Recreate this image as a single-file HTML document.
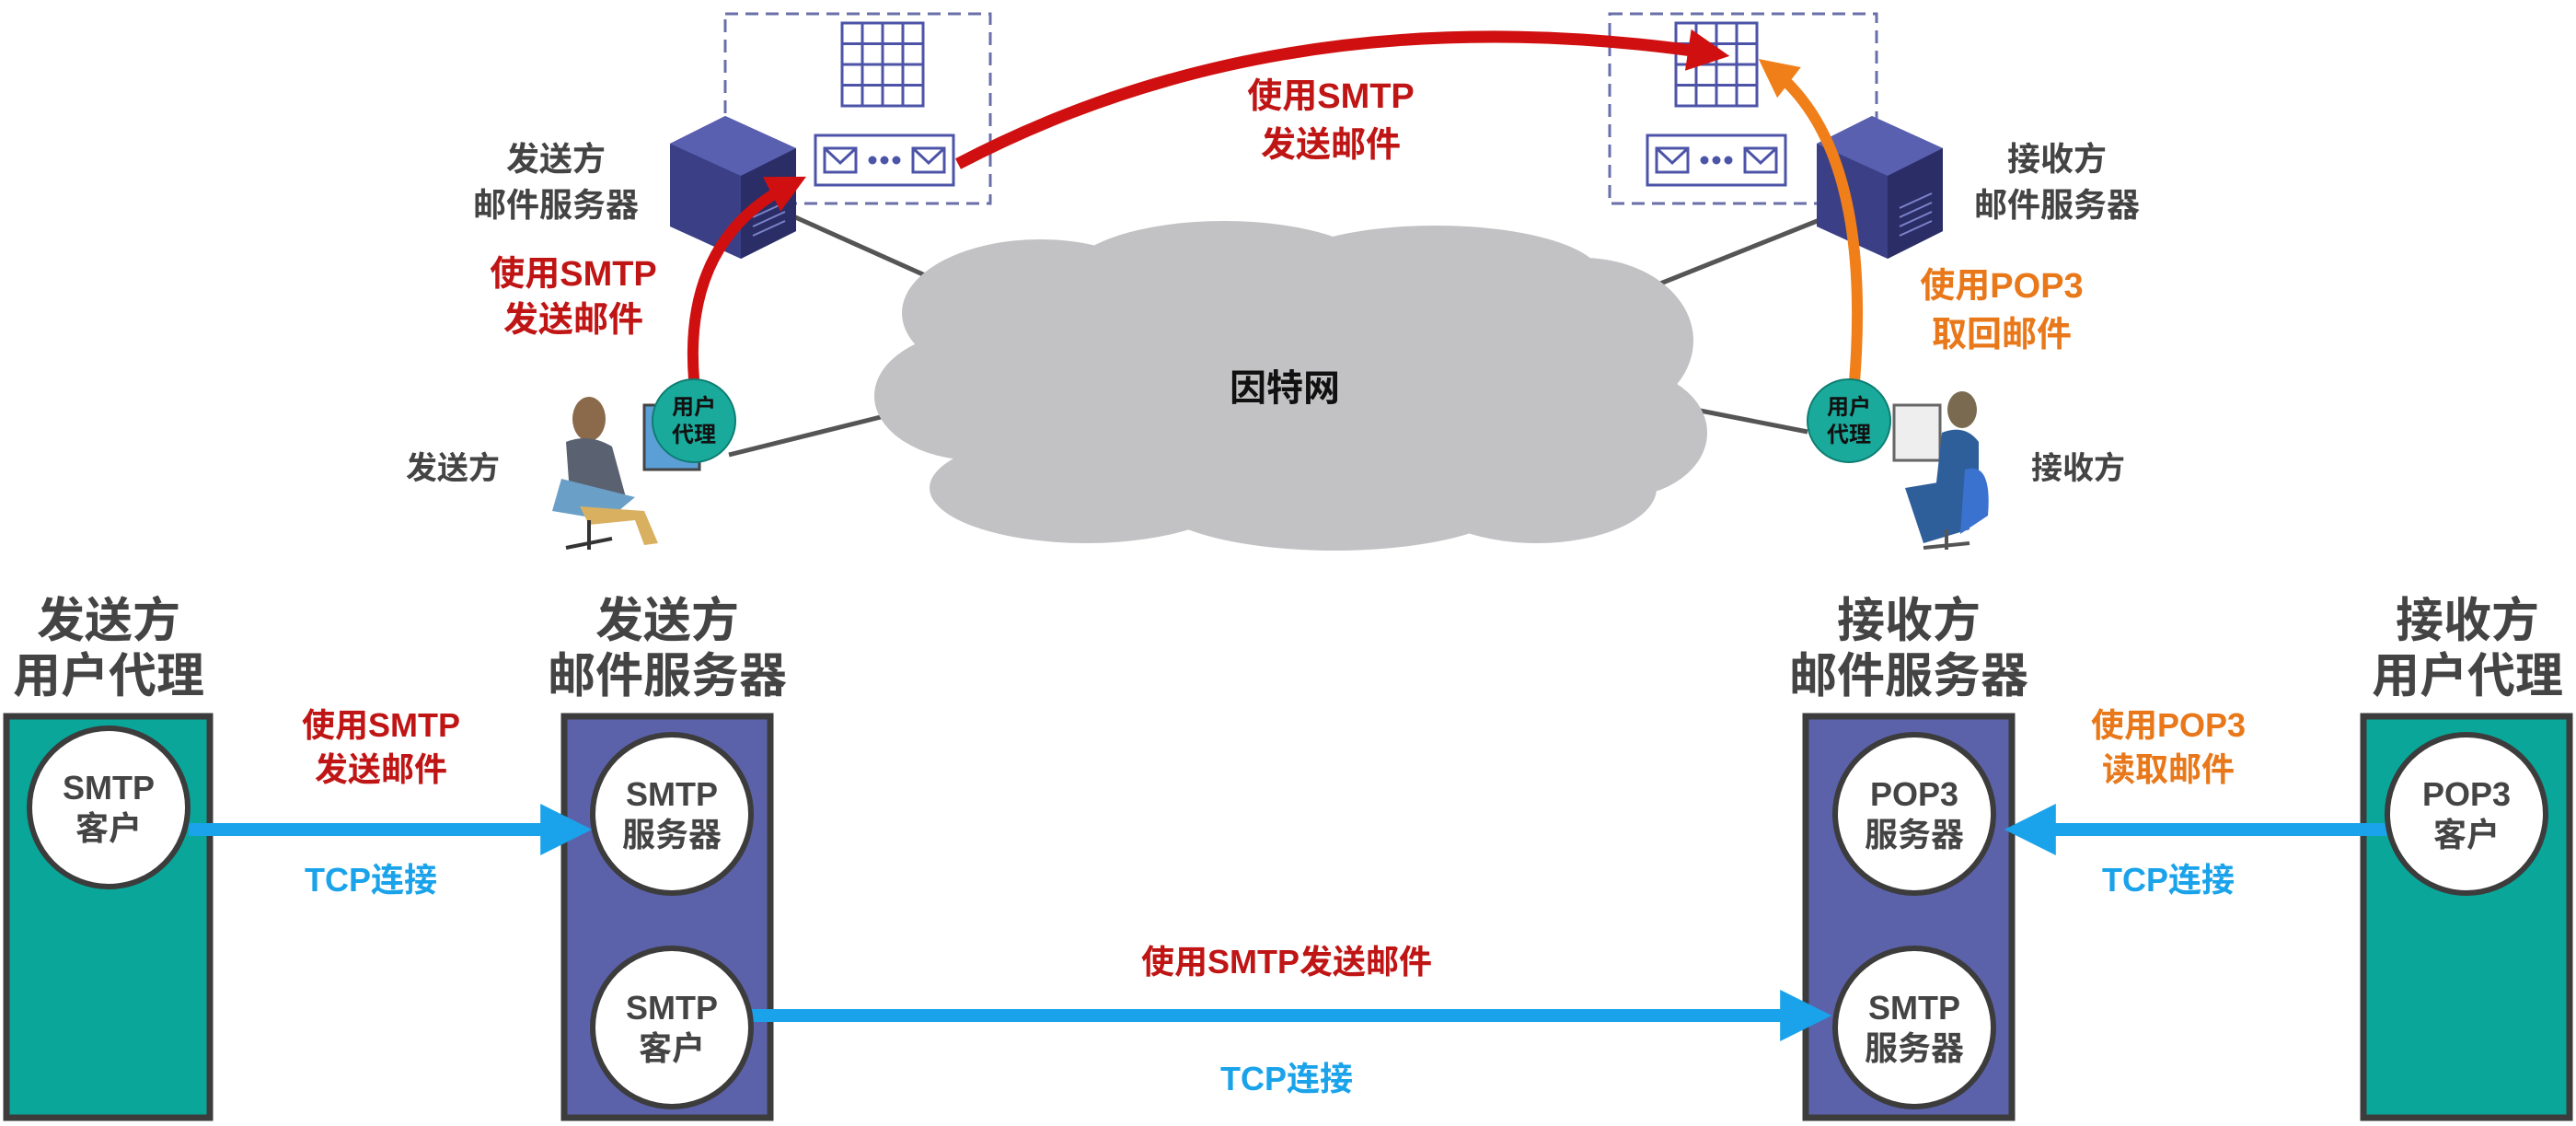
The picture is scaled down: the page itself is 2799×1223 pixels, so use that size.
<!DOCTYPE html>
<html><head><meta charset="utf-8"><style>
html,body{margin:0;padding:0;background:#fff;}
svg{display:block}
text{font-family:"Liberation Sans","Noto Sans CJK SC",sans-serif;font-weight:bold;text-anchor:middle;}
</style></head><body>
<svg width="2799" height="1223" viewBox="0 0 2799 1223" xmlns="http://www.w3.org/2000/svg">
<defs>
<marker id="ab" markerWidth="4" markerHeight="4" refX="2.2" refY="2" orient="auto" markerUnits="strokeWidth"><path d="M0,0 L4,2 L0,4 z" fill="#1aa3ea"/></marker>
<marker id="ar" markerWidth="3.5" markerHeight="3.5" refX="2" refY="1.75" orient="auto" markerUnits="strokeWidth"><path d="M0,0 L3.5,1.75 L0,3.5 z" fill="#d01010"/></marker>
<marker id="ao" markerWidth="3.5" markerHeight="3.5" refX="2" refY="1.75" orient="auto" markerUnits="strokeWidth"><path d="M0,0 L3.5,1.75 L0,3.5 z" fill="#f07f1a"/></marker>
<g id="srv">
<polygon points="0,30 60,0 137,35 137,125 77,155 0,120" fill="#3b3f86"/>
<polygon points="0,30 60,0 137,35 77,65" fill="#5a60b0"/>
<polygon points="77,65 137,35 137,125 77,155" fill="#2a2d66"/>
<g stroke="#7c82c8" stroke-width="2"><line x1="90" y1="100" x2="125" y2="84"/><line x1="90" y1="110" x2="125" y2="94"/><line x1="90" y1="120" x2="125" y2="104"/><line x1="90" y1="130" x2="125" y2="114"/></g>
</g>
<g id="grid" stroke="#4d54a8" stroke-width="3" fill="#fff">
<rect x="0" y="0" width="88" height="90"/>
<line x1="22" y1="0" x2="22" y2="90"/><line x1="44" y1="0" x2="44" y2="90"/><line x1="66" y1="0" x2="66" y2="90"/>
<line x1="0" y1="22.5" x2="88" y2="22.5"/><line x1="0" y1="45" x2="88" y2="45"/><line x1="0" y1="67.5" x2="88" y2="67.5"/>
</g>
<g id="env" stroke="#4d54a8" stroke-width="3" fill="#fff">
<rect x="0" y="0" width="150" height="54"/>
<rect x="10" y="14" width="34" height="26"/><polyline points="10,14 27,30 44,14" fill="none"/>
<rect x="106" y="14" width="34" height="26"/><polyline points="106,14 123,30 140,14" fill="none"/>
<circle cx="62" cy="27" r="3" fill="#4d54a8"/><circle cx="75" cy="27" r="3" fill="#4d54a8"/><circle cx="88" cy="27" r="3" fill="#4d54a8"/>
</g>
</defs>

<!-- top: connector lines -->
<g stroke="#555" stroke-width="5">
<line x1="862" y1="235" x2="1063" y2="325"/>
<line x1="792" y1="494" x2="977" y2="448"/>
<line x1="1977" y1="239" x2="1789" y2="314"/>
<line x1="1964" y1="469" x2="1827" y2="442"/>
</g>
<!-- cloud -->
<g fill="#c2c2c4">
<ellipse cx="1400" cy="430" rx="400" ry="120"/>
<ellipse cx="1130" cy="340" rx="150" ry="80"/>
<ellipse cx="1330" cy="300" rx="170" ry="60"/>
<ellipse cx="1560" cy="300" rx="180" ry="55"/>
<ellipse cx="1720" cy="370" rx="120" ry="90"/>
<ellipse cx="1060" cy="430" rx="110" ry="70"/>
<ellipse cx="1760" cy="470" rx="95" ry="70"/>
<ellipse cx="1180" cy="530" rx="170" ry="60"/>
<ellipse cx="1450" cy="540" rx="200" ry="58"/>
<ellipse cx="1670" cy="530" rx="130" ry="60"/>
</g>
<text x="1396" y="435" font-size="40" fill="#111">因特网</text>

<!-- dashed boxes -->
<rect x="788" y="15" width="288" height="206" fill="none" stroke="#6a6fa8" stroke-width="3" stroke-dasharray="14,8"/>
<rect x="1749" y="15" width="290" height="206" fill="none" stroke="#6a6fa8" stroke-width="3" stroke-dasharray="14,8"/>
<use href="#grid" x="915" y="25"/>
<use href="#grid" x="1821" y="25"/>
<use href="#env" x="886" y="147"/>
<use href="#env" x="1790" y="147"/>
<use href="#srv" x="728" y="126"/>
<use href="#srv" x="1974" y="126"/>

<text x="604" y="185" font-size="36" fill="#444">发送方</text>
<text x="604" y="235" font-size="36" fill="#444">邮件服务器</text>
<text x="2235" y="185" font-size="36" fill="#444">接收方</text>
<text x="2235" y="235" font-size="36" fill="#444">邮件服务器</text>

<!-- persons -->
<g>
<rect x="700" y="440" width="60" height="70" fill="#5a9fd6" stroke="#444" stroke-width="3"/>
<ellipse cx="640" cy="455" rx="18" ry="24" fill="#8a6a4a"/>
<path d="M615,480 Q640,470 665,485 L680,540 L620,550 Z" fill="#5a6272"/>
<path d="M610,520 L600,555 L660,565 L690,540 Z" fill="#6aa0c8"/>
<path d="M630,550 L700,555 L715,590 L700,592 L690,565 L640,570 Z" fill="#d8b060"/>
<line x1="640" y1="565" x2="640" y2="597" stroke="#333" stroke-width="4"/>
<line x1="615" y1="595" x2="665" y2="585" stroke="#333" stroke-width="4"/>
</g>
<g>
<rect x="2058" y="440" width="50" height="60" fill="#eee" stroke="#666" stroke-width="3"/>
<ellipse cx="2132" cy="445" rx="16" ry="20" fill="#7a6a50"/>
<path d="M2110,470 Q2135,460 2150,480 L2150,560 L2100,560 Z" fill="#2f5f9a"/>
<path d="M2070,530 L2130,520 L2140,575 L2090,590 Z" fill="#2f5f9a"/>
<path d="M2135,510 Q2165,500 2160,560 L2130,580 Z" fill="#3a72d0"/>
<line x1="2115" y1="575" x2="2115" y2="597" stroke="#555" stroke-width="4"/>
<line x1="2090" y1="595" x2="2140" y2="590" stroke="#555" stroke-width="4"/>
</g>
<text x="492" y="520" font-size="34" fill="#444">发送方</text>
<text x="2258" y="520" font-size="34" fill="#444">接收方</text>

<!-- arcs -->
<path d="M754,412 Q742,260 860,200" fill="none" stroke="#d01010" stroke-width="12" marker-end="url(#ar)"/>
<path d="M1041,178 Q1400,-10 1860,58" fill="none" stroke="#d01010" stroke-width="13" marker-end="url(#ar)"/>
<path d="M2015,415 Q2035,160 1925,75" fill="none" stroke="#f07f1a" stroke-width="12" marker-end="url(#ao)"/>

<!-- user agent circles -->
<circle cx="754" cy="457" r="45" fill="#1aaa9c" stroke="#0e7d72" stroke-width="2"/>
<text x="754" y="450" font-size="24" fill="#111">用户</text>
<text x="754" y="480" font-size="24" fill="#111">代理</text>
<circle cx="2009" cy="457" r="45" fill="#1aaa9c" stroke="#0e7d72" stroke-width="2"/>
<text x="2009" y="450" font-size="24" fill="#111">用户</text>
<text x="2009" y="480" font-size="24" fill="#111">代理</text>

<text x="623" y="310" font-size="38" fill="#c01515">使用SMTP</text>
<text x="623" y="360" font-size="38" fill="#c01515">发送邮件</text>
<text x="1446" y="117" font-size="38" fill="#c01515">使用SMTP</text>
<text x="1446" y="170" font-size="38" fill="#c01515">发送邮件</text>
<text x="2175" y="323" font-size="38" fill="#e8781a">使用POP3</text>
<text x="2175" y="376" font-size="38" fill="#e8781a">取回邮件</text>

<!-- bottom titles -->
<g font-size="52" fill="#444">
<text x="118" y="692">发送方</text><text x="118" y="752">用户代理</text>
<text x="725" y="692">发送方</text><text x="725" y="752">邮件服务器</text>
<text x="2074" y="692">接收方</text><text x="2074" y="752">邮件服务器</text>
<text x="2681" y="692">接收方</text><text x="2681" y="752">用户代理</text>
</g>
<!-- boxes -->
<rect x="7" y="778" width="221" height="436" fill="#0aa69a" stroke="#3c3c3c" stroke-width="7"/>
<rect x="613" y="778" width="224" height="436" fill="#5b62aa" stroke="#3c3c3c" stroke-width="7"/>
<rect x="1962" y="778" width="224" height="436" fill="#5b62aa" stroke="#3c3c3c" stroke-width="7"/>
<rect x="2568" y="778" width="224" height="436" fill="#0aa69a" stroke="#3c3c3c" stroke-width="7"/>

<!-- arrows -->
<line x1="205" y1="901" x2="618" y2="901" stroke="#1aa3ea" stroke-width="14" marker-end="url(#ab)"/>
<line x1="812" y1="1103" x2="1965" y2="1103" stroke="#1aa3ea" stroke-width="14" marker-end="url(#ab)"/>
<line x1="2595" y1="901" x2="2203" y2="901" stroke="#1aa3ea" stroke-width="14" marker-end="url(#ab)"/>

<!-- circles -->
<g fill="#fff" stroke="#3c3c3c" stroke-width="6">
<circle cx="118" cy="877" r="86"/>
<circle cx="730" cy="884" r="86"/>
<circle cx="730" cy="1116" r="86"/>
<circle cx="2080" cy="884" r="86"/>
<circle cx="2080" cy="1116" r="86"/>
<circle cx="2680" cy="884" r="86"/>
</g>
<g font-size="36" fill="#444">
<text x="118" y="868">SMTP</text><text x="118" y="912">客户</text>
<text x="730" y="875">SMTP</text><text x="730" y="919">服务器</text>
<text x="730" y="1107">SMTP</text><text x="730" y="1151">客户</text>
<text x="2080" y="875">POP3</text><text x="2080" y="919">服务器</text>
<text x="2080" y="1107">SMTP</text><text x="2080" y="1151">服务器</text>
<text x="2680" y="875">POP3</text><text x="2680" y="919">客户</text>
</g>
<!-- labels -->
<g font-size="36">
<text x="414" y="800" fill="#c01515">使用SMTP</text>
<text x="414" y="848" fill="#c01515">发送邮件</text>
<text x="403" y="968" fill="#1aa3ea">TCP连接</text>
<text x="1398" y="1057" fill="#c01515">使用SMTP发送邮件</text>
<text x="1398" y="1184" fill="#1aa3ea">TCP连接</text>
<text x="2356" y="800" fill="#e8781a">使用POP3</text>
<text x="2356" y="848" fill="#e8781a">读取邮件</text>
<text x="2356" y="968" fill="#1aa3ea">TCP连接</text>
</g>
</svg>
</body></html>
